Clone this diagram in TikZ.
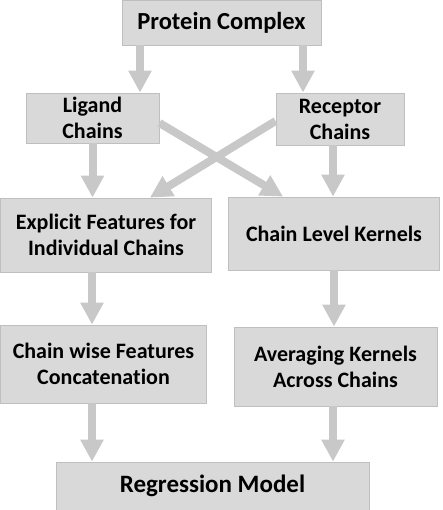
\documentclass[tikz,border=0pt]{standalone}
\usepackage{fontspec}
\setmainfont{Carlito}[Ligatures=NoCommon]
\usepackage{xcolor}
\usepackage{tikz}
\usetikzlibrary{arrows.meta}

\definecolor{boxfill}{HTML}{D9D9D9}
\definecolor{boxline}{HTML}{BFBFBF}
\definecolor{arrgray}{HTML}{C8C8C8}

\begin{document}
\begin{tikzpicture}[x=1pt,y=-1pt,
  box/.style={draw=boxline,fill=boxfill,line width=0.8pt,align=center,
    inner sep=0pt,font=\bfseries\fontsize{22}{26}\selectfont},
  arr/.style={arrgray,line width=8pt,-{Triangle[width=22pt,length=22pt]}}]
  \useasboundingbox (0,0) rectangle (442,510);
  % boxes
  \node[box,minimum width=199pt,minimum height=45pt,font=\bfseries\fontsize{24.5}{28}\selectfont] (pc) at (221.5,22.5) {Protein Complex};
  \node[box,minimum width=133pt,minimum height=50pt] (lig) at (92.5,118) {Ligand\\Chains};
  \node[box,minimum width=128pt,minimum height=52pt] (rec) at (340,119) {Receptor\\Chains};
  \node[box,minimum width=211pt,minimum height=74pt] (expl) at (106,235) {Explicit Features for\\Individual Chains};
  \node[box,minimum width=211pt,minimum height=73pt] (ckl) at (334,233.5) {Chain Level Kernels};
  \node[box,minimum width=206pt,minimum height=78pt] (cwf) at (103.5,364) {Chain wise Features\\Concatenation};
  \node[box,minimum width=203pt,minimum height=79pt] (avg) at (335.5,366.5) {Averaging Kernels\\Across Chains};
  \node[box,minimum width=313pt,minimum height=48pt,font=\bfseries\fontsize{25}{29}\selectfont] (reg) at (212.5,486) {Regression Model};
  % arrows
  \draw[arr] ([xshift=-81.5pt]pc.south) -- ([xshift=-81.5pt]pc.south |- lig.north);
  \draw[arr] ([xshift=81.5pt]pc.south) -- ([xshift=81.5pt]pc.south |- rec.north);
  \draw[arr] (lig.south) -- (lig.south |- expl.north);
  \draw[arr] ([xshift=-7pt]rec.south) -- ([xshift=-7pt]rec.south |- ckl.north);
  \draw[arr] ([yshift=-5pt]lig.east) -- ([xshift=55pt]ckl.north west);
  \draw[arr] ([yshift=-2pt]rec.west) -- ([xshift=-62pt]expl.north east);
  \draw[arr] ([xshift=-14pt]expl.south) -- ([xshift=-14pt]expl.south |- cwf.north);
  \draw[arr] (ckl.south) -- (ckl.south |- avg.north);
  \draw[arr] ([xshift=-11.5pt]cwf.south) -- ([xshift=-11.5pt]cwf.south |- reg.north);
  \draw[arr] ([xshift=-2.5pt]avg.south) -- ([xshift=-2.5pt]avg.south |- reg.north);
\end{tikzpicture}
\end{document}
